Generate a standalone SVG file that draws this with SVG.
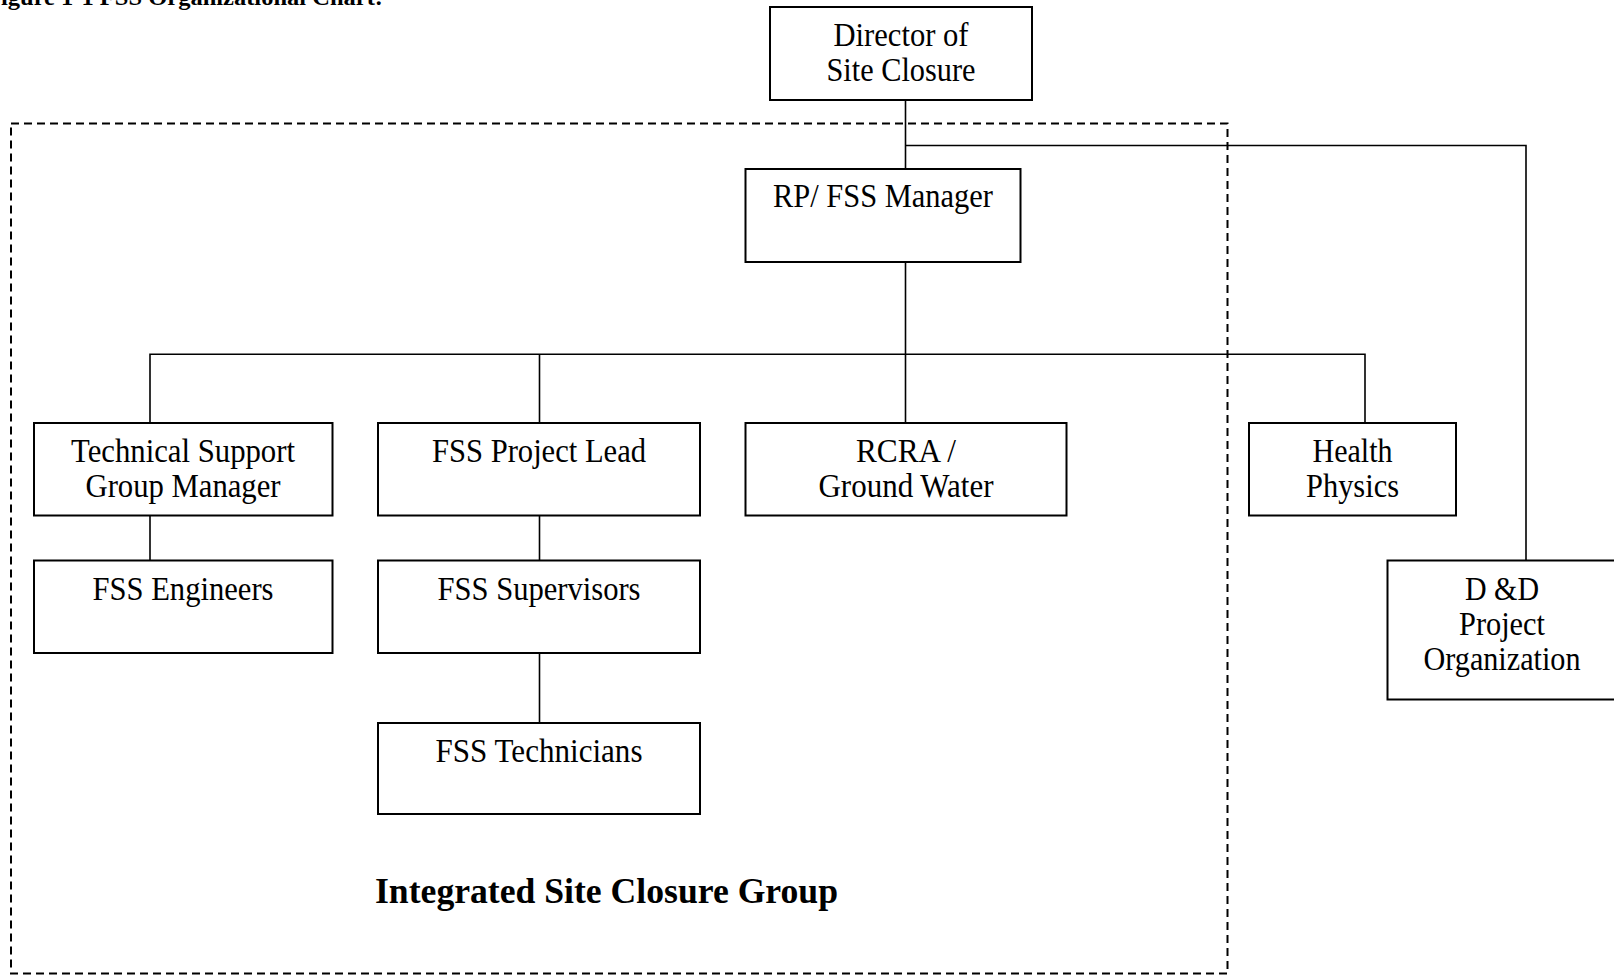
<svg xmlns="http://www.w3.org/2000/svg" width="1614" height="976" viewBox="0 0 1614 976">
<style>
.box{fill:#fff;stroke:#000;stroke-width:2}
.ln{fill:none;stroke:#000;stroke-width:1.6}
.dash{fill:none;stroke:#000;stroke-width:2;stroke-dasharray:8 5}
.t{font-family:"Liberation Serif","Times New Roman",serif;font-size:33px;fill:#000;text-anchor:middle}
.title{font-family:"Liberation Serif","Times New Roman",serif;font-size:35px;font-weight:bold;fill:#000}
.hdr{font-family:"Liberation Serif","Times New Roman",serif;font-size:24px;font-weight:bold;fill:#000}
</style>
<rect width="1614" height="976" fill="#fff"/>
<text class="hdr" x="-14" y="5" textLength="397" lengthAdjust="spacingAndGlyphs">Figure 1-1 FSS Organizational Chart:</text>
<g id="group-boundary">
<rect class="dash" x="11" y="123.5" width="1216.5" height="850"/>
<text class="title" x="375" y="903" textLength="463" lengthAdjust="spacingAndGlyphs">Integrated Site Closure Group</text>
</g>
<g id="connectors">
<polyline class="ln" points="905.5,100 905.5,169"/>
<polyline class="ln" points="905.5,145.5 1526,145.5 1526,560.5"/>
<polyline class="ln" points="905.5,262 905.5,423"/>
<polyline class="ln" points="150,423 150,354.3 1365,354.3 1365,423"/>
<polyline class="ln" points="539.5,354.3 539.5,423"/>
<polyline class="ln" points="150,515.5 150,560.5"/>
<polyline class="ln" points="539.5,515.5 539.5,560.5"/>
<polyline class="ln" points="539.5,653 539.5,723"/>
</g>
<g id="director">
<rect class="box" x="770" y="7" width="262" height="93"/>
<text class="t" x="901" y="46" textLength="135" lengthAdjust="spacingAndGlyphs">Director of</text>
<text class="t" x="901" y="81" textLength="149" lengthAdjust="spacingAndGlyphs">Site Closure</text>
</g>
<g id="rp-fss-manager">
<rect class="box" x="745.5" y="169" width="275" height="93"/>
<text class="t" x="883" y="207" textLength="220" lengthAdjust="spacingAndGlyphs">RP/ FSS Manager</text>
</g>
<g id="technical-support">
<rect class="box" x="34" y="423" width="298.5" height="92.5"/>
<text class="t" x="183" y="462" textLength="224" lengthAdjust="spacingAndGlyphs">Technical Support</text>
<text class="t" x="183" y="497" textLength="195" lengthAdjust="spacingAndGlyphs">Group Manager</text>
</g>
<g id="fss-project-lead">
<rect class="box" x="378" y="423" width="322" height="92.5"/>
<text class="t" x="539" y="462" textLength="214" lengthAdjust="spacingAndGlyphs">FSS Project Lead</text>
</g>
<g id="rcra">
<rect class="box" x="745.5" y="423" width="321" height="92.5"/>
<text class="t" x="906" y="462" textLength="100" lengthAdjust="spacingAndGlyphs">RCRA /</text>
<text class="t" x="906" y="497" textLength="175" lengthAdjust="spacingAndGlyphs">Ground Water</text>
</g>
<g id="health-physics">
<rect class="box" x="1249" y="423" width="207" height="92.5"/>
<text class="t" x="1352.5" y="462" textLength="80" lengthAdjust="spacingAndGlyphs">Health</text>
<text class="t" x="1352.5" y="497" textLength="93" lengthAdjust="spacingAndGlyphs">Physics</text>
</g>
<g id="fss-engineers">
<rect class="box" x="34" y="560.5" width="298.5" height="92.5"/>
<text class="t" x="183" y="600" textLength="181" lengthAdjust="spacingAndGlyphs">FSS Engineers</text>
</g>
<g id="fss-supervisors">
<rect class="box" x="378" y="560.5" width="322" height="92.5"/>
<text class="t" x="539" y="600" textLength="203" lengthAdjust="spacingAndGlyphs">FSS Supervisors</text>
</g>
<g id="fss-technicians">
<rect class="box" x="378" y="723" width="322" height="91"/>
<text class="t" x="539" y="762" textLength="207" lengthAdjust="spacingAndGlyphs">FSS Technicians</text>
</g>
<g id="dd-project">
<rect class="box" x="1387.5" y="560.5" width="240" height="139"/>
<text class="t" x="1502" y="600" textLength="74" lengthAdjust="spacingAndGlyphs">D &amp;D</text>
<text class="t" x="1502" y="635" textLength="86" lengthAdjust="spacingAndGlyphs">Project</text>
<text class="t" x="1502" y="669.5" textLength="157" lengthAdjust="spacingAndGlyphs">Organization</text>
</g>
</svg>
